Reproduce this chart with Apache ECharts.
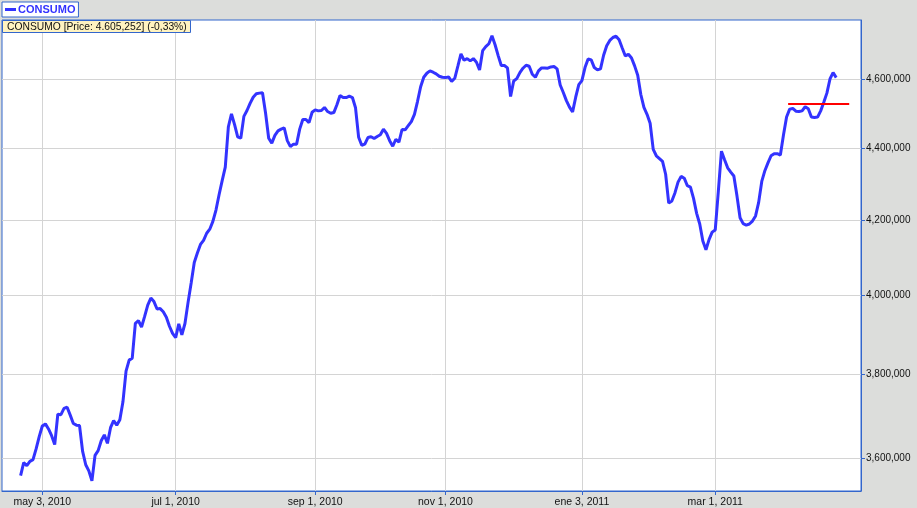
<!DOCTYPE html>
<html>
<head>
<meta charset="utf-8">
<script src="https://cdn.jsdelivr.net/npm/echarts@6/dist/echarts.min.js"></script>
<style>
  html, body { margin: 0; padding: 0; background: #dcdddb; }
  #main { width: 917px; height: 508px; }
</style>
</head>
<body>
<div id="main"></div>
<script>
// trading-day index 0 = may 3, 2010
var tickDays = [0, 43, 88, 130, 174, 217];
var tickLabels = ['may 3, 2010', 'jul 1, 2010', 'sep 1, 2010', 'nov 1, 2010', 'ene 3, 2011', 'mar 1, 2011'];
var priceTicks = [3600, 3800, 4000, 4200, 4400, 4600];

var firstDay = -7;
var prices = [
  3560, 3590, 3583, 3593, 3597, 3622, 3651, 3676, 3681, 3669,
  3653, 3632, 3704, 3703, 3718, 3721, 3702, 3682, 3678, 3677,
  3616, 3585, 3571, 3548, 3607, 3618, 3641, 3655, 3635, 3672,
  3689, 3678, 3691, 3734, 3809, 3836, 3841, 3928, 3935, 3919,
  3946, 3975, 3993, 3984, 3965, 3966, 3958, 3944, 3921, 3903,
  3892, 3927, 3899, 3928, 3982, 4032, 4086, 4111, 4134, 4145,
  4164, 4175, 4196, 4227, 4269, 4308, 4346, 4461, 4498, 4467,
  4432, 4428, 4491, 4508, 4529, 4547, 4557, 4559, 4560, 4500,
  4428, 4414, 4436, 4449, 4454, 4458, 4421, 4404, 4411, 4411,
  4454, 4482, 4482, 4473, 4503, 4510, 4507, 4508, 4517, 4505,
  4500, 4502, 4525, 4552, 4546, 4546, 4550, 4546, 4516, 4431,
  4408, 4411, 4430, 4432, 4427, 4433, 4438, 4454, 4442, 4421,
  4405, 4425, 4417, 4453, 4452, 4464, 4476, 4497, 4535, 4578,
  4606, 4618, 4625, 4621, 4616, 4609, 4606, 4605, 4607, 4594,
  4603, 4639, 4676, 4657, 4662, 4655, 4662, 4651, 4628, 4686,
  4698, 4707, 4731, 4704, 4671, 4641, 4641, 4634, 4549, 4595,
  4602, 4620, 4633, 4642, 4639, 4615, 4606, 4625, 4634, 4634,
  4633, 4637, 4638, 4631, 4583, 4561, 4537, 4518, 4504, 4547,
  4584, 4596, 4635, 4661, 4658, 4635, 4628, 4631, 4672, 4701,
  4717, 4726, 4730, 4719, 4694, 4670, 4675, 4664, 4640, 4612,
  4555, 4517, 4497, 4471, 4396, 4378, 4370, 4362, 4326, 4246,
  4252, 4274, 4304, 4320, 4315, 4294, 4290, 4259, 4218, 4189,
  4143, 4120, 4147, 4167, 4173, 4279, 4391, 4367, 4344, 4332,
  4321, 4266, 4206, 4190, 4186, 4189, 4197, 4211, 4248, 4306,
  4336, 4358, 4378, 4384, 4384, 4380, 4437, 4489, 4512, 4514,
  4506, 4505, 4507, 4519, 4513, 4489, 4488, 4489, 4507, 4532,
  4559, 4601, 4620, 4605
];

// red horizontal line (drawn level)
var redStart = 240.5;
var redEnd = 260.2;
var redLevel = 4529;

var blue = '#3366cc';
var font = 'Liberation Sans, Arial, sans-serif';

function fmtPrice(v) {
  var s = String(Math.round(v)).replace(/\B(?=(\d{3})+(?!\d))/g, ',');
  return s + ',000';
}

var chart = echarts.init(document.getElementById('main'));
var option = {
  animation: false,
  backgroundColor: '#dcdddb',
  textStyle: { fontFamily: font },
  title: {
    text: 'CONSUMO [Price: 4.605,252] (-0,33%)',
    left: 2,
    top: 20,
    padding: [1, 4, 0, 5],
    backgroundColor: '#fff3c0',
    borderColor: blue,
    borderWidth: 1,
    textStyle: { fontSize: 10.3, fontWeight: 'normal', color: '#111', fontFamily: font, lineHeight: 12 }
  },
  legend: {
    left: 2,
    top: 2,
    padding: [2, 3, 2, 3],
    backgroundColor: '#ffffff',
    borderColor: blue,
    borderWidth: 1,
    borderRadius: 0,
    icon: 'rect',
    itemWidth: 11,
    itemHeight: 3,
    itemGap: 2,
    textStyle: { color: '#3333ff', fontWeight: 'bold', fontSize: 11, fontFamily: font, padding: [0, 0, 0, -3] },
    data: ['CONSUMO']
  },
  grid: {
    left: 2,
    right: 56,
    top: 20,
    bottom: 17,
    show: true,
    backgroundColor: '#ffffff',
    borderColor: blue,
    borderWidth: 1
  },
  xAxis: {
    type: 'value',
    min: -13,
    max: 264,
    axisLine: { show: true, onZero: false, lineStyle: { color: blue } },
    axisTick: { show: true, length: 4, lineStyle: { color: blue }, customValues: tickDays },
    axisLabel: {
      customValues: tickDays,
      margin: 6,
      fontSize: 10.5,
      color: '#111',
      fontFamily: font,
      formatter: function (v) {
        var i = tickDays.indexOf(Math.round(v));
        return i >= 0 ? tickLabels[i] : '';
      }
    },
    splitLine: { show: true, lineStyle: { color: '#d4d4d4', width: 1 } }
  },
  yAxis: {
    type: 'log',
    position: 'right',
    min: 3524.7,
    max: 4779.8,
    axisLine: { show: true, onZero: false, lineStyle: { color: blue } },
    axisTick: { show: true, length: 4, lineStyle: { color: blue }, customValues: priceTicks },
    axisLabel: {
      customValues: priceTicks,
      margin: 5,
      fontSize: 10,
      color: '#111',
      fontFamily: font,
      formatter: fmtPrice
    },
    splitLine: { show: true, lineStyle: { color: '#d4d4d4', width: 1 } }
  },
  series: [{
    name: 'CONSUMO',
    type: 'line',
    showSymbol: false,
    symbol: 'none',
    color: '#3333ff',
    lineStyle: { color: '#3333ff', width: 3 },
    data: prices.map(function (v, i) { return [firstDay + i, v]; }),
    markLine: {
      silent: true,
      symbol: 'none',
      label: { show: false },
      lineStyle: { color: '#ff0000', width: 2, type: 'solid' },
      data: [[{ coord: [redStart, redLevel] }, { coord: [redEnd, redLevel] }]]
    }
  }]
};
chart.setOption(option);
</script>
</body>
</html>
